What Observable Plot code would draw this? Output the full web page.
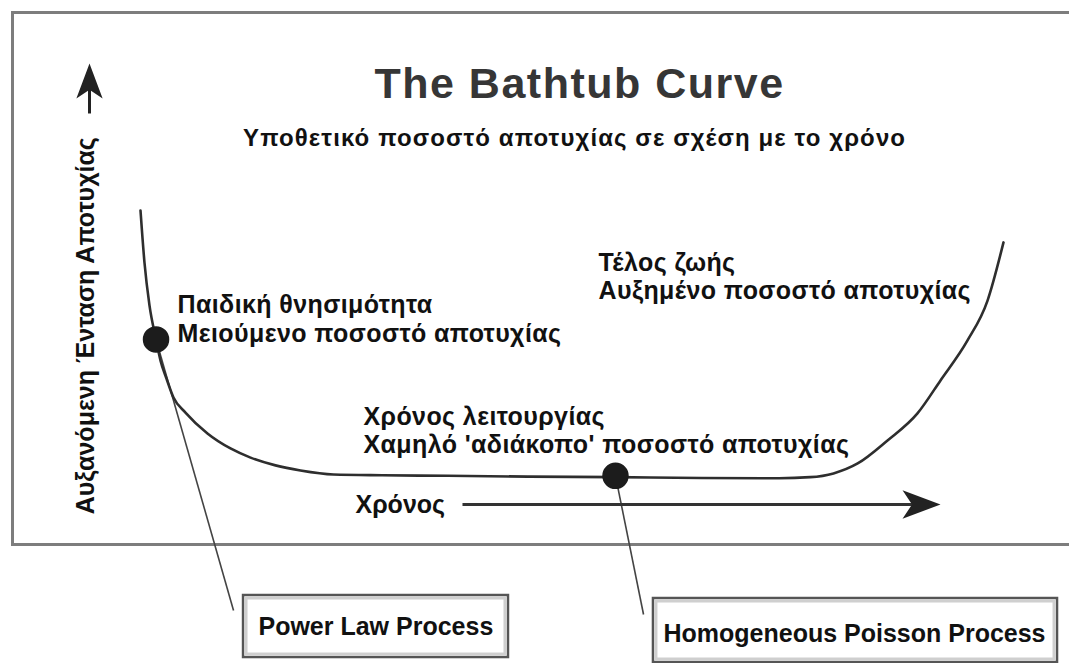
<!DOCTYPE html>
<html>
<head>
<meta charset="utf-8">
<script src="https://cdn.jsdelivr.net/npm/d3@7"></script>
<script src="https://cdn.jsdelivr.net/npm/@observablehq/plot@0.6"></script>
<style>
  html, body { margin: 0; padding: 0; background: #fff; }
  #chart svg { display: block; }
</style>
</head>
<body>
<div id="chart"></div>
<script>
// ---- Bathtub curve: time (0–100) vs failure intensity (0–100) ----
const time      = [0, 0.46, 1.04, 1.80, 2.32, 3.01, 3.82, 5.21, 7.76, 10.43, 12.75, 15.64, 18.54, 22.36, 28, 35.6, 45, 55, 65, 74, 77.6, 80.3, 83.1, 86.56, 90.03, 92.70, 95.83, 98.15, 100];
const intensity = [100, 80.6, 64.6, 51.9, 44.0, 37.3, 30.2, 24.6, 16.8, 11.2, 7.8, 4.9, 3.0, 1.5, 1.2, 1.0, 0.7, 0.5, 0.2, 0.1, 0.5, 1.9, 5.6, 14.2, 24.3, 36.6, 51.5, 66.4, 88.1];

// ---- phase annotations ----
const labels = ["Παιδική θνησιμότητα", "Μειούμενο ποσοστό αποτυχίας", "Τέλος ζωής", "Αυξημένο ποσοστό αποτυχίας", "Χρόνος λειτουργίας", "Χαμηλό 'αδιάκοπο' ποσοστό αποτυχίας"];
const labelT = [4.29, 4.29, 53.07, 53.07, 25.84, 25.84];
const labelR = [61.57, 50.75, 77.6, 67.16, 19.78, 9.33];

// ---- processes (dots on curve, leader lines, boxes) ----
const processes = ["Power Law Process", "Homogeneous Poisson Process"];
const procT = [1.80, 55.04];
const procR = [51.9, 1.0];
const leaderT = [10.78, 58.29];
const leaderR = [-49.25, -50.75];
const boxT1 = [11.94, 59.44], boxT2 = [42.64, 106.26];
const boxR1 = [-43.66, -44.78], boxR2 = [-66.8, -68.66];
const boxTextT = [13.67, 60.60];
const boxTextR = [-58.58, -61.19];

// ---- titles & axes ----
const title = ["The Bathtub Curve"];          const titleT = [50.87], titleR = [141.8];
const subtitle = ["Υποθετικό ποσοστό αποτυχίας σε σχέση με το χρόνο"]; const subT = [50.3], subR = [123.9];
const yLabel = ["Αυξανόμενη Ένταση Αποτυχίας"]; const yLabelT = [-6.26], yLabelR = [57.0];
const yArrowT = [-5.91], yArrowR1 = [136.2], yArrowHeadR = [148.3];
const xLabel = ["Χρόνος"]; const xLabelT = [24.91], xLabelR = [-12.69];
const xArrowR = [-9.70], xArrowT1 = [37.31], xArrowHeadT = [90.5];

const curve = time.map((t, i) => ({t, r: intensity[i]}));
const idx = arr => arr.map((_, i) => i);
const font = "'Liberation Sans', Arial, Helvetica, sans-serif";

// concave (swept-back) arrowhead symbol, pointing up before rotation
const arrowHead = {
  draw(context, size) {
    const r = Math.sqrt(size / Math.PI);
    context.moveTo(0, -r);
    context.lineTo(0.75 * r, r);
    context.lineTo(0, 0.5 * r);
    context.lineTo(-0.75 * r, r);
    context.closePath();
  }
};

const chart = Plot.plot({
  width: 1069,
  height: 663,
  marginTop: 12,
  marginLeft: 12,
  marginRight: 0,
  marginBottom: 119,
  x: {domain: [0, 100], range: [140, 1003], axis: null},
  y: {domain: [0, 100], range: [478, 210], axis: null},
  style: {fontFamily: font, background: "#fff", overflow: "visible"},
  marks: [
    Plot.frame({anchor: "top", stroke: "#7d7d7d", strokeWidth: 3}),
    Plot.frame({anchor: "left", stroke: "#7d7d7d", strokeWidth: 3}),
    Plot.frame({anchor: "bottom", stroke: "#7d7d7d", strokeWidth: 3}),

    // leader lines from dots to boxes
    Plot.link(idx(processes), {
      x1: i => procT[i], y1: i => procR[i], x2: i => leaderT[i], y2: i => leaderR[i],
      stroke: "#444", strokeWidth: 1.6
    }),

    // bathtub curve
    Plot.line(curve, {x: "t", y: "r", curve: "monotone-x", stroke: "#2e2e2e", strokeWidth: 2.6}),

    // dots
    Plot.dot(idx(processes), {x: i => procT[i], y: i => procR[i], r: 12.5, fill: "#1c1c1c", stroke: "#1c1c1c"}),

    // y arrow + label
    Plot.link(idx(yArrowT), {x1: i => yArrowT[i], y1: i => yArrowR1[i], x2: i => yArrowT[i], y2: i => yArrowHeadR[i],
      stroke: "#222", strokeWidth: 3}),
    Plot.dot(idx(yArrowT), {x: i => yArrowT[i], y: i => yArrowHeadR[i], symbol: arrowHead, r: 17.5,
      fill: "#222", stroke: "none"}),
    Plot.text(yLabel, {x: (d, i) => yLabelT[i], y: (d, i) => yLabelR[i], text: d => d, rotate: -90,
      textAnchor: "middle", lineAnchor: "middle", fontSize: 25, fontWeight: "bold", fill: "#111"}),

    // time arrow + label
    Plot.link(idx(xArrowR), {x1: i => xArrowT1[i], y1: i => xArrowR[i], x2: i => xArrowHeadT[i], y2: i => xArrowR[i],
      stroke: "#333", strokeWidth: 3}),
    Plot.dot(idx(xArrowR), {x: i => xArrowHeadT[i], y: i => xArrowR[i], symbol: arrowHead, r: 19, rotate: 90,
      fill: "#222", stroke: "none"}),
    Plot.text(xLabel, {x: (d, i) => xLabelT[i], y: (d, i) => xLabelR[i], text: d => d,
      textAnchor: "start", lineAnchor: "bottom", fontSize: 25, fontWeight: "bold", fill: "#111"}),

    // title & subtitle
    Plot.text(title, {x: (d, i) => titleT[i], y: (d, i) => titleR[i], text: d => d,
      textAnchor: "middle", lineAnchor: "bottom", fontSize: 43, fontWeight: "bold", fill: "#363636"}),
    Plot.text(subtitle, {x: (d, i) => subT[i], y: (d, i) => subR[i], text: d => d,
      textAnchor: "middle", lineAnchor: "bottom", fontSize: 24, fontWeight: "bold", fill: "#111"}),

    // phase annotations
    Plot.text(labels, {x: (d, i) => labelT[i], y: (d, i) => labelR[i], text: d => d,
      textAnchor: "start", lineAnchor: "bottom", fontSize: 25, fontWeight: "bold", fill: "#111"}),

    // process boxes
    Plot.rect(idx(processes), {x1: i => boxT1[i], x2: i => boxT2[i], y1: i => boxR1[i], y2: i => boxR2[i],
      fill: "#fff", stroke: "#555", strokeWidth: 2.5}),
    Plot.rect(idx(processes), {x1: i => boxT1[i], x2: i => boxT2[i], y1: i => boxR1[i], y2: i => boxR2[i],
      fill: "none", stroke: "#cfcfcf", strokeWidth: 3, inset: 3}),
    Plot.text(processes, {x: (d, i) => boxTextT[i], y: (d, i) => boxTextR[i], text: d => d,
      textAnchor: "start", lineAnchor: "bottom", fontSize: 25, fontWeight: "bold", fill: "#111"})
  ]
});

// letter spacing (styling only; Plot text has no letterSpacing option)
const spacing = new Map([
  ...title.map(t => [t, "1.5px"]),
  ...subtitle.map(t => [t, "1.1px"]),
  ...labels.map(t => [t, "0.4px"])
]);
d3.select(chart).selectAll("text").each(function () {
  const s = spacing.get(this.textContent);
  if (s) this.style.letterSpacing = s;
});

document.getElementById("chart").appendChild(chart);
</script>
</body>
</html>
